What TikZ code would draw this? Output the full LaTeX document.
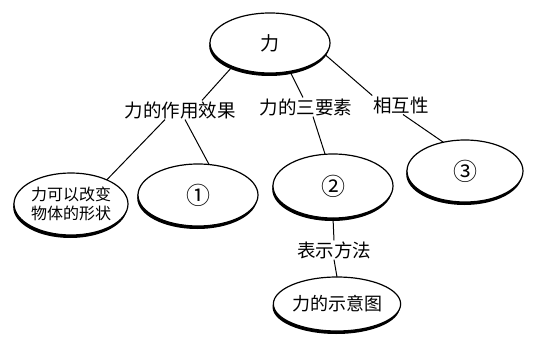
\documentclass[tikz,border=0pt]{standalone}
\usepackage{fontspec}
\setmainfont{Noto Sans CJK SC}
\usetikzlibrary{shadows,shapes.geometric}
\tikzset{
  oval/.style={ellipse, draw=black, line width=1.2pt, fill=white, inner sep=0pt, outer sep=0pt,
    drop shadow={shadow xshift=-0.8pt, shadow yshift=-3pt, opacity=1, fill=black}},
  lab/.style={inner sep=1pt, outer sep=0pt, font=\fontsize{18.5}{20}\selectfont},
  conn/.style={line width=1pt, draw=black}
}
\begin{document}
\begin{tikzpicture}[x=1pt,y=-1pt]
\useasboundingbox (0,0) rectangle (556,339);
\node[oval, minimum width=120pt, minimum height=60pt, font=\fontsize{19}{21}\selectfont] (top) at (270,43) {力};
\node[lab] (lab1) at (180,110) {力的作用效果};
\node[lab] (lab2) at (306,107) {力的三要素};
\node[lab] (lab3) at (401,105) {相互性};
\node[oval, minimum width=114pt, minimum height=62pt, align=center, font=\fontsize{16}{19}\selectfont] (left) at (71,204) {力可以改变\\物体的形状};
\node[oval, minimum width=120pt, minimum height=62pt, font=\fontsize{24}{26}\selectfont] (c1) at (198,195) {①};
\node[oval, minimum width=120pt, minimum height=64pt, font=\fontsize{24}{26}\selectfont] (c2) at (333,186) {②};
\node[oval, minimum width=116pt, minimum height=62pt, font=\fontsize{24}{26}\selectfont] (c3) at (465,171) {③};
\node[lab] (lab4) at (334,250) {表示方法};
\node[oval, minimum width=120pt, minimum height=54pt, font=\fontsize{18}{20}\selectfont] (c5) at (337,304) {力的示意图};
\draw[conn] (top.212) -- ([xshift=22pt]lab1.north);
\draw[conn] (top.305) -- ([xshift=-3pt]lab2.north);
\draw[conn] (top.348) -- (lab3.north west);
\draw[conn] ([xshift=-15pt]lab1.south) -- (left.34);
\draw[conn] ([xshift=5pt]lab1.south) -- (c1.70);
\draw[conn] ([xshift=7pt]lab2.south) -- (c2.104);
\draw[conn] ([xshift=2pt]lab3.south) -- (c3.127);
\draw[conn] (c2.south) -- (lab4.north);
\draw[conn] (lab4.south) -- (c5.north);
\end{tikzpicture}
\end{document}
